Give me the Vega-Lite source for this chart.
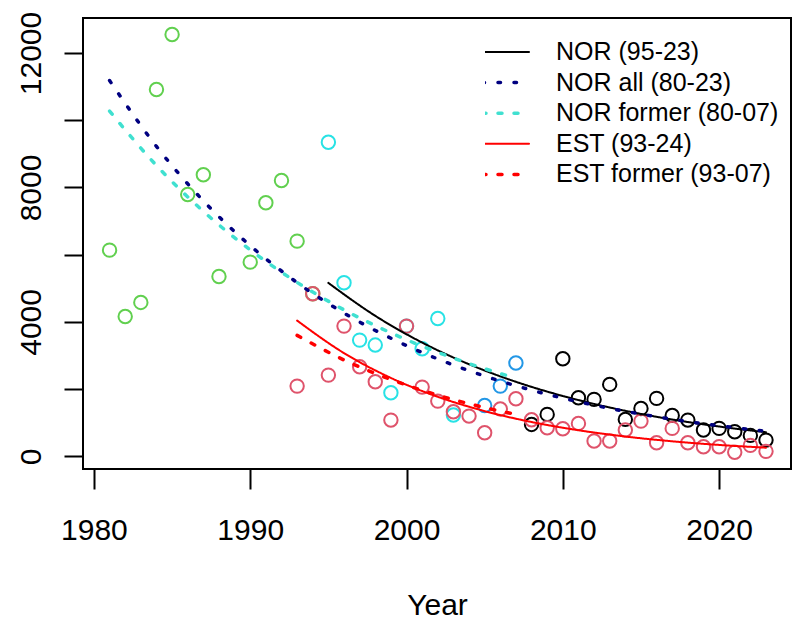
{
  "$schema": "https://vega.github.io/schema/vega-lite/v6.json",
  "width": 708,
  "height": 451,
  "autosize": {"type": "none"},
  "padding": {"left": 83, "top": 18, "right": 9, "bottom": 154},
  "background": "#ffffff",
  "config": {
    "view": {"stroke": "#000000", "strokeWidth": 2},
    "font": "Liberation Sans",
    "axis": {
      "grid": false,
      "domain": false,
      "tickColor": "#000000",
      "tickWidth": 2,
      "labelColor": "#000000",
      "titleColor": "#000000",
      "labelFont": "Liberation Sans",
      "titleFont": "Liberation Sans",
      "labelFontSize": 30,
      "titleFontSize": 30,
      "titleFontWeight": "normal"
    },
    "legend": {"labelFontWeight": "normal", "labelLimit": 400}
  },
  "datasets": {
    "pts": [
      {"year": 1981, "value": 6135, "grp": "g"},
      {"year": 1982, "value": 4163, "grp": "g"},
      {"year": 1983, "value": 4580, "grp": "g"},
      {"year": 1984, "value": 10913, "grp": "g"},
      {"year": 1985, "value": 12548, "grp": "g"},
      {"year": 1986, "value": 7791, "grp": "g"},
      {"year": 1987, "value": 8376, "grp": "g"},
      {"year": 1988, "value": 5352, "grp": "g"},
      {"year": 1990, "value": 5778, "grp": "g"},
      {"year": 1991, "value": 7543, "grp": "g"},
      {"year": 1992, "value": 8207, "grp": "g"},
      {"year": 1993, "value": 6403, "grp": "g"},
      {"year": 1994, "value": 4838, "grp": "g"},
      {"year": 1995, "value": 9346, "grp": "c"},
      {"year": 1996, "value": 5164, "grp": "c"},
      {"year": 1997, "value": 3459, "grp": "c"},
      {"year": 1998, "value": 3311, "grp": "c"},
      {"year": 1999, "value": 1893, "grp": "c"},
      {"year": 2000, "value": 3875, "grp": "c"},
      {"year": 2001, "value": 3202, "grp": "c"},
      {"year": 2002, "value": 4103, "grp": "c"},
      {"year": 2003, "value": 1229, "grp": "c"},
      {"year": 2005, "value": 1516, "grp": "b"},
      {"year": 2006, "value": 2091, "grp": "b"},
      {"year": 2007, "value": 2776, "grp": "b"},
      {"year": 2008, "value": 951, "grp": "k"},
      {"year": 2009, "value": 1249, "grp": "k"},
      {"year": 2010, "value": 2905, "grp": "k"},
      {"year": 2011, "value": 1745, "grp": "k"},
      {"year": 2012, "value": 1695, "grp": "k"},
      {"year": 2013, "value": 2141, "grp": "k"},
      {"year": 2014, "value": 1100, "grp": "k"},
      {"year": 2015, "value": 1427, "grp": "k"},
      {"year": 2016, "value": 1725, "grp": "k"},
      {"year": 2017, "value": 1219, "grp": "k"},
      {"year": 2018, "value": 1080, "grp": "k"},
      {"year": 2019, "value": 783, "grp": "k"},
      {"year": 2020, "value": 833, "grp": "k"},
      {"year": 2021, "value": 734, "grp": "k"},
      {"year": 2022, "value": 624, "grp": "k"},
      {"year": 2023, "value": 485, "grp": "k"},
      {"year": 1993, "value": 2091, "grp": "r"},
      {"year": 1994, "value": 4838, "grp": "r"},
      {"year": 1995, "value": 2418, "grp": "r"},
      {"year": 1996, "value": 3875, "grp": "r"},
      {"year": 1997, "value": 2667, "grp": "r"},
      {"year": 1998, "value": 2221, "grp": "r"},
      {"year": 1999, "value": 1080, "grp": "r"},
      {"year": 2000, "value": 3875, "grp": "r"},
      {"year": 2001, "value": 2061, "grp": "r"},
      {"year": 2002, "value": 1645, "grp": "r"},
      {"year": 2003, "value": 1329, "grp": "r"},
      {"year": 2004, "value": 1199, "grp": "r"},
      {"year": 2005, "value": 704, "grp": "r"},
      {"year": 2006, "value": 1412, "grp": "r"},
      {"year": 2007, "value": 1716, "grp": "r"},
      {"year": 2008, "value": 1090, "grp": "r"},
      {"year": 2009, "value": 853, "grp": "r"},
      {"year": 2010, "value": 824, "grp": "r"},
      {"year": 2011, "value": 981, "grp": "r"},
      {"year": 2012, "value": 456, "grp": "r"},
      {"year": 2013, "value": 456, "grp": "r"},
      {"year": 2014, "value": 783, "grp": "r"},
      {"year": 2015, "value": 1050, "grp": "r"},
      {"year": 2016, "value": 406, "grp": "r"},
      {"year": 2017, "value": 833, "grp": "r"},
      {"year": 2018, "value": 406, "grp": "r"},
      {"year": 2019, "value": 287, "grp": "r"},
      {"year": 2020, "value": 287, "grp": "r"},
      {"year": 2021, "value": 122, "grp": "r"},
      {"year": 2022, "value": 327, "grp": "r"},
      {"year": 2023, "value": 150, "grp": "r"}
    ],
    "fits": [
      {"year": 1995, "value": 5160, "curve": "NOR (95-23)"},
      {"year": 1998, "value": 4181, "curve": "NOR (95-23)"},
      {"year": 2001, "value": 3385, "curve": "NOR (95-23)"},
      {"year": 2004, "value": 2741, "curve": "NOR (95-23)"},
      {"year": 2007, "value": 2219, "curve": "NOR (95-23)"},
      {"year": 2010, "value": 1796, "curve": "NOR (95-23)"},
      {"year": 2013, "value": 1454, "curve": "NOR (95-23)"},
      {"year": 2016, "value": 1177, "curve": "NOR (95-23)"},
      {"year": 2019, "value": 953, "curve": "NOR (95-23)"},
      {"year": 2022, "value": 772, "curve": "NOR (95-23)"},
      {"year": 2023, "value": 719, "curve": "NOR (95-23)"},
      {"year": 1981, "value": 11180, "curve": "NOR all (80-23)"},
      {"year": 1984, "value": 9220, "curve": "NOR all (80-23)"},
      {"year": 1987, "value": 7602, "curve": "NOR all (80-23)"},
      {"year": 1990, "value": 6268, "curve": "NOR all (80-23)"},
      {"year": 1993, "value": 5169, "curve": "NOR all (80-23)"},
      {"year": 1996, "value": 4262, "curve": "NOR all (80-23)"},
      {"year": 1999, "value": 3514, "curve": "NOR all (80-23)"},
      {"year": 2002, "value": 2898, "curve": "NOR all (80-23)"},
      {"year": 2005, "value": 2389, "curve": "NOR all (80-23)"},
      {"year": 2008, "value": 1970, "curve": "NOR all (80-23)"},
      {"year": 2011, "value": 1625, "curve": "NOR all (80-23)"},
      {"year": 2014, "value": 1340, "curve": "NOR all (80-23)"},
      {"year": 2017, "value": 1105, "curve": "NOR all (80-23)"},
      {"year": 2020, "value": 911, "curve": "NOR all (80-23)"},
      {"year": 2023, "value": 751, "curve": "NOR all (80-23)"},
      {"year": 1981, "value": 10270, "curve": "NOR former (80-07)"},
      {"year": 1984, "value": 8652, "curve": "NOR former (80-07)"},
      {"year": 1987, "value": 7290, "curve": "NOR former (80-07)"},
      {"year": 1990, "value": 6142, "curve": "NOR former (80-07)"},
      {"year": 1993, "value": 5175, "curve": "NOR former (80-07)"},
      {"year": 1996, "value": 4360, "curve": "NOR former (80-07)"},
      {"year": 1999, "value": 3674, "curve": "NOR former (80-07)"},
      {"year": 2002, "value": 3096, "curve": "NOR former (80-07)"},
      {"year": 2005, "value": 2608, "curve": "NOR former (80-07)"},
      {"year": 2007, "value": 2327, "curve": "NOR former (80-07)"},
      {"year": 1993, "value": 4040, "curve": "EST (93-24)"},
      {"year": 1996, "value": 3072, "curve": "EST (93-24)"},
      {"year": 1999, "value": 2334, "curve": "EST (93-24)"},
      {"year": 2002, "value": 1773, "curve": "EST (93-24)"},
      {"year": 2005, "value": 1347, "curve": "EST (93-24)"},
      {"year": 2008, "value": 1023, "curve": "EST (93-24)"},
      {"year": 2011, "value": 778, "curve": "EST (93-24)"},
      {"year": 2014, "value": 591, "curve": "EST (93-24)"},
      {"year": 2017, "value": 449, "curve": "EST (93-24)"},
      {"year": 2020, "value": 341, "curve": "EST (93-24)"},
      {"year": 2023, "value": 259, "curve": "EST (93-24)"},
      {"year": 1993, "value": 3600, "curve": "EST former (93-07)"},
      {"year": 1996, "value": 2868, "curve": "EST former (93-07)"},
      {"year": 1999, "value": 2286, "curve": "EST former (93-07)"},
      {"year": 2002, "value": 1822, "curve": "EST former (93-07)"},
      {"year": 2005, "value": 1452, "curve": "EST former (93-07)"},
      {"year": 2007, "value": 1249, "curve": "EST former (93-07)"}
    ]
  },
  "layer": [
    {
      "data": {"name": "pts"},
      "mark": {"type": "point", "shape": "circle", "filled": false, "size": 180, "strokeWidth": 2, "opacity": 1},
      "encoding": {
        "x": {
          "field": "year", "type": "quantitative",
          "scale": {"domain": [1979.3, 2024.6], "nice": false, "zero": false},
          "axis": {"values": [1980, 1990, 2000, 2010, 2020], "format": "d", "tickSize": 20, "labelPadding": 26, "labelFlush": false, "title": "Year", "titlePadding": 45}
        },
        "y": {
          "field": "value", "type": "quantitative",
          "scale": {"domain": [-375, 13040], "nice": false, "zero": false},
          "axis": {"values": [0, 2000, 4000, 6000, 8000, 10000, 12000], "format": "d", "labelExpr": "datum.value % 4000 === 0 ? datum.label : ''", "tickSize": 19, "labelPadding": 24, "labelAngle": -90, "labelAlign": "center", "labelBaseline": "alphabetic", "labelOverlap": false, "title": null}
        },
        "color": {
          "field": "grp", "type": "nominal",
          "scale": {"domain": ["g", "c", "b", "k", "r"], "range": ["#61D04F", "#28E2E5", "#2297E6", "#000000", "#DF536B"]},
          "legend": null
        }
      }
    },
    {
      "data": {"name": "fits"},
      "mark": {"type": "line", "interpolate": "monotone", "strokeCap": "round"},
      "encoding": {
        "x": {"field": "year", "type": "quantitative"},
        "y": {"field": "value", "type": "quantitative"},
        "color": {
          "field": "curve", "type": "nominal",
          "scale": {"domain": ["NOR (95-23)", "NOR all (80-23)", "NOR former (80-07)", "EST (93-24)", "EST former (93-07)"], "range": ["#000000", "#000080", "#40E0D0", "#FF0000", "#FF0000"]},
          "legend": {
            "orient": "none", "legendX": 402, "legendY": 19, "title": null,
            "symbolType": "M-1.567,0L1.567,0", "symbolSize": 900, "clipHeight": 30, "rowPadding": 0.6, "padding": 0,
            "symbolOffset": 8,
            "labelFontSize": 25, "labelFont": "Liberation Sans", "labelFontWeight": "normal", "labelLimit": 400, "labelColor": "#000000", "labelOffset": 38,
            "encode": {
              "symbols": {
                "update": {
                  "fill": {"value": "transparent"},
                  "strokeDash": {"signal": "datum.label === 'NOR all (80-23)' ? [2.5, 13.5] : (datum.label === 'NOR former (80-07)' || datum.label === 'EST former (93-07)') ? [4, 12] : [1, 0]"},
                  "strokeWidth": {"signal": "(datum.label === 'NOR (95-23)' || datum.label === 'EST (93-24)') ? 2 : 3.5"},
                  "strokeCap": {"value": "round"}
                }
              }
            }
          }
        },
        "strokeDash": {
          "field": "curve", "type": "nominal",
          "scale": {"domain": ["NOR (95-23)", "NOR all (80-23)", "NOR former (80-07)", "EST (93-24)", "EST former (93-07)"], "range": [[1, 0], [2.5, 13.5], [4, 12], [1, 0], [4, 12]]},
          "legend": null
        },
        "strokeWidth": {
          "field": "curve", "type": "nominal",
          "scale": {"type": "ordinal", "domain": ["NOR (95-23)", "NOR all (80-23)", "NOR former (80-07)", "EST (93-24)", "EST former (93-07)"], "range": [2, 3.5, 3.5, 2, 3.5]},
          "legend": null
        }
      }
    }
  ],
  "resolve": {"scale": {"color": "independent"}}
}
